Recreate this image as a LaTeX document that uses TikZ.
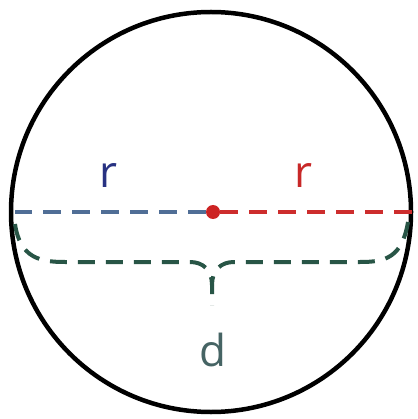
\documentclass[tikz,border=0pt]{standalone}
\usepackage{fontspec}
\setmainfont{Open Sans}
\begin{document}
\begin{tikzpicture}[x=1pt,y=-1pt,
  dsh/.style={line width=4.5pt,dash pattern=on 18pt off 11pt},
  brc/.style={line width=4pt,dash pattern=on 17pt off 11pt,draw={rgb,255:red,40;green,85;blue,70}},
  lbl/.style={inner sep=0pt,font=\fontsize{44}{44}\selectfont}]
\useasboundingbox (0,0) rectangle (417,419);
\fill[white] (0,0) rectangle (417,419);
\node[circle,draw=black,line width=4.5pt,minimum size=400pt,inner sep=0pt] (c) at (211,212) {};
\coordinate (L) at (15,212);
\coordinate (R) at (413,212);
\node[circle,fill={rgb,255:red,205;green,35;blue,35},inner sep=0pt,minimum size=14pt] (o) at (213,212) {};
\draw[dsh,draw={rgb,255:red,80;green,110;blue,150}] (o) -- (L);
\draw[dsh,draw={rgb,255:red,205;green,45;blue,45}] (o) -- (R);
\node[lbl,text={rgb,255:red,40;green,50;blue,130}] (r1) at (108,176) {r};
\node[lbl,text={rgb,255:red,200;green,40;blue,40}] (r2) at (303,176) {r};
\coordinate (bl) at (15,224);
\coordinate (br) at (408,222);
\coordinate (bt) at (212,305);
\draw[brc]
  (bl) .. controls (20,258) and (40,262) .. (65,262) -- (190,262)
  .. controls (203,262) and (212,270) .. (212,285) -- (bt);
\draw[brc]
  (br) .. controls (402,258) and (385,262) .. (360,262) -- (234,262)
  .. controls (221,262) and (212,270) .. (212,285);
\node[lbl,text={rgb,255:red,70;green,100;blue,100}] (d) at (213,350) {d};
\end{tikzpicture}
\end{document}
